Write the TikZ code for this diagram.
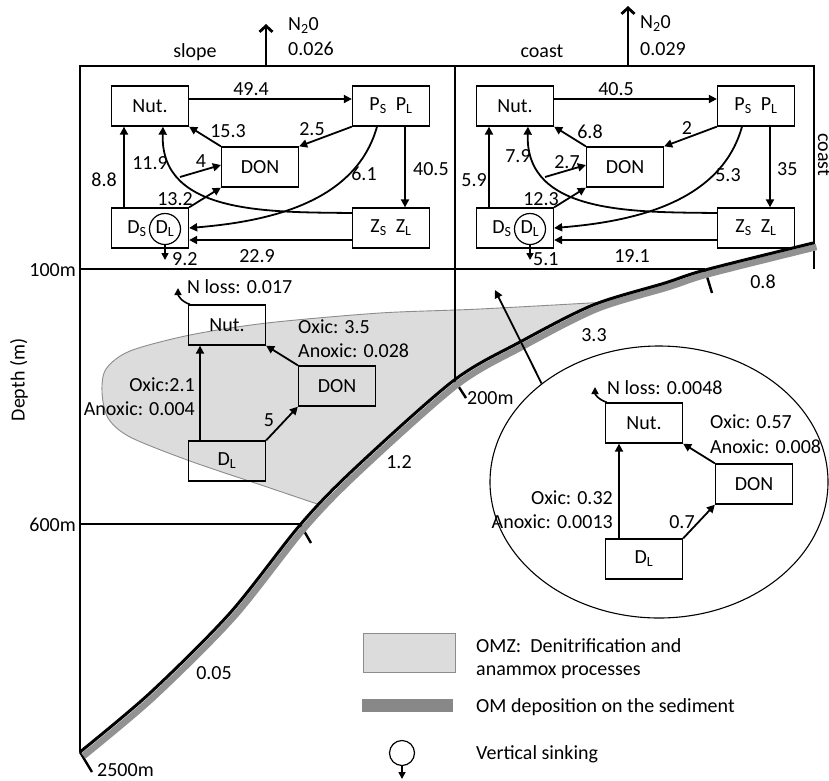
\documentclass[tikz,border=0pt]{standalone}
\usepackage{fontspec}
\setmainfont{Carlito}
\usetikzlibrary{arrows.meta,shapes.geometric}
\definecolor{omz}{HTML}{DCDCDC}
\definecolor{omzline}{HTML}{8C8C8C}
\definecolor{band}{HTML}{929292}
\definecolor{legbar}{HTML}{888888}
\begin{document}
\begin{tikzpicture}[x=1pt,y=-1pt,
  every node/.style={font=\fontsize{20}{24}\selectfont, inner sep=0pt},
  box/.style={draw, line width=1.3pt, minimum width=77pt, minimum height=40pt},
  frame/.style={line width=2.8pt},
  tick/.style={line width=2.4pt},
  flow/.style={line width=1.8pt, -{Triangle[length=8pt,width=8pt]}},
  small flow/.style={line width=1.6pt, -{Triangle[length=7pt,width=7pt]}},
  up flow/.style={line width=2.8pt, -{Straight Barb[length=6pt,width=13pt]}},
]
\useasboundingbox (0,0) rectangle (829,780);
\fill[white] (0,0) rectangle (829,780);

% ---------- OMZ region (clipped above the slope) ----------
\begin{scope}
  \clip (0,0) -- (0,752) -- plot[smooth] coordinates {(80,752) (150,693) (230,613) (300,525) (353,470) (453,381) (520,342) (593,305) (665,283) (705,270) (813,243)} -- (829,243) -- (829,0) -- cycle;
  \filldraw[fill=omz, draw=omzline, line width=0.9pt] plot[smooth] coordinates {(625,301) (480,309) (380,313) (267,323) (190,335) (130,351) (106,369) (102,392) (108,418) (130,437) (190,461) (267,487) (335,510)} -- cycle;
\end{scope}

% ---------- frame lines ----------
\draw[frame] (80,752) -- (80,66) -- (814,66) -- (814,269);
\draw[frame] (455,66) -- (455,381);
\draw[frame] (80,269) -- (705,269);
\draw[frame] (80,524) -- (300,524);
\draw[tick] (455,381) -- (466,398);
\draw[tick] (705,270) -- (712,293);
\draw[tick] (300,524) -- (311,543);
\draw[tick] (80,752) -- (92,772);

% ---------- slope with sediment band ----------
\draw[band, line width=6.5pt, shift={(3.5,4)}] plot[smooth] coordinates {(80,752) (150,693) (230,613) (300,525) (353,470) (453,381) (520,342) (593,305) (665,283) (705,270) (813,243)};
\draw[line width=3pt] plot[smooth] coordinates {(80,752) (150,693) (230,613) (300,525) (353,470) (453,381) (520,342) (593,305) (665,283) (705,270) (813,243)};

% ---------- axis / depth labels ----------
\node[rotate=90] (depth) at (19,380) {Depth (m)};
\node[anchor=east] (d100) at (76,270) {100m};
\node[anchor=east] (d600) at (76,525) {600m};
\node[anchor=west] (d200) at (467,398) {200m};
\node[anchor=west] (d2500) at (97,770) {2500m};
\node (v33) at (594,335) {3.3};
\node (v08) at (763,282) {0.8};
\node (v12) at (399,462) {1.2};
\node (v005) at (214,673) {0.05};
\node[rotate=-90, anchor=base west] (cEdge) at (818,133) {coast};

% ---------- N2O fluxes and titles ----------
\coordinate (sT) at (266,66); \coordinate (sTup) at (266,24);
\draw[up flow] (sT) -- (sTup);
\node[anchor=base west] (sN2O) at (288,30) {N\textsubscript{2}0};
\node[anchor=base west] (sV) at (288,55) {0.026};
\node[anchor=base] (sTitle) at (195,57) {slope};
\coordinate (cT) at (628,66); \coordinate (cTup) at (628,6);
\draw[up flow] (cT) -- (cTup);
\node[anchor=base west] (cN2O) at (640,28) {N\textsubscript{2}0};
\node[anchor=base west] (cV) at (640,55) {0.029};
\node[anchor=base] (cTitle) at (542,57) {coast};

% ---------- upper slope box ----------
\node[box] (sN) at (150,106) {Nut.};
\node[box] (sP) at (391,106) {P\textsubscript{S}\ \ P\textsubscript{L}};
\node[box] (sD) at (260,167) {DON};
\node[box] (sB) at (150,228) {};
\node (sBt) at (137,229) {D\textsubscript{S}};
\node[draw, circle, line width=1.2pt, minimum size=31pt] (sL) at (165,229) {D\textsubscript{L}};
\node[box] (sZ) at (391,228) {Z\textsubscript{S}\ \ Z\textsubscript{L}};
\coordinate (s4) at (180,177);
\coordinate (sSink) at (165,260);
\draw[flow] ([yshift=7pt]sN.east) -- ([yshift=7pt]sP.west);
\draw[flow] (sD.north west) -- (sN.south east);
\draw[flow] (sP.south west) -- (sD.north east);
\draw[flow] ([xshift=14pt]sP.south) -- ([xshift=14pt]sZ.north);
\draw[flow] ([xshift=-26pt]sB.north) -- ([xshift=-26pt]sN.south);
\draw[flow] ([yshift=15pt]sZ.west) .. controls +(-83,-1) and +(-3,88) .. ([xshift=13pt]sN.south);
\draw[flow] (s4) -- ([yshift=2pt]sD.west);
\draw[flow] (sB.north east) -- (sD.south west);
\draw[flow] ([xshift=-14pt]sP.south) .. controls +(-22,79) and +(72,-6) .. (sB.east);
\draw[flow] ([yshift=-12pt]sZ.west) -- ([yshift=-12pt]sB.east);
\draw[small flow] (sL.south) -- (sSink);
\node (sl1) at (251,89) {49.4};
\node (sl2) at (228,131) {15.3};
\node (sl3) at (312,129) {2.5};
\node[anchor=west] (sl4) at (413,169) {40.5};
\node[anchor=east] (sl5) at (117,180) {8.8};
\node (sl6) at (150,163) {11.9};
\node (sl7) at (201,161) {4};
\node (sl8) at (175,199) {13.2};
\node (sl9) at (364,174) {6.1};
\node (sl10) at (257,256) {22.9};
\node[anchor=west] (sl11) at (172,259) {9.2};

% ---------- upper coast box ----------
\begin{scope}[xshift=365pt]
\node[box] (cN) at (150,106) {Nut.};
\node[box] (cP) at (391,106) {P\textsubscript{S}\ \ P\textsubscript{L}};
\node[box] (cD) at (260,167) {DON};
\node[box] (cB) at (150,228) {};
\node (cBt) at (137,229) {D\textsubscript{S}};
\node[draw, circle, line width=1.2pt, minimum size=31pt] (cL) at (165,229) {D\textsubscript{L}};
\node[box] (cZ) at (391,228) {Z\textsubscript{S}\ \ Z\textsubscript{L}};
\coordinate (c4) at (180,177);
\coordinate (cSink) at (165,260);
\draw[flow] ([yshift=7pt]cN.east) -- ([yshift=7pt]cP.west);
\draw[flow] (cD.north west) -- (cN.south east);
\draw[flow] (cP.south west) -- (cD.north east);
\draw[flow] ([xshift=14pt]cP.south) -- ([xshift=14pt]cZ.north);
\draw[flow] ([xshift=-26pt]cB.north) -- ([xshift=-26pt]cN.south);
\draw[flow] ([yshift=15pt]cZ.west) .. controls +(-83,-1) and +(-3,88) .. ([xshift=13pt]cN.south);
\draw[flow] (c4) -- ([yshift=2pt]cD.west);
\draw[flow] (cB.north east) -- (cD.south west);
\draw[flow] ([xshift=-14pt]cP.south) .. controls +(-22,79) and +(72,-6) .. (cB.east);
\draw[flow] ([yshift=-12pt]cZ.west) -- ([yshift=-12pt]cB.east);
\draw[small flow] (cL.south) -- (cSink);
\node (cl1) at (251,89) {40.5};
\node (cl2) at (225,132) {6.8};
\node (cl3) at (322,128) {2};
\node[anchor=west] (cl4) at (412,169) {35};
\node[anchor=east] (cl5) at (122,180) {5.9};
\node (cl6) at (153,156) {7.9};
\node (cl7) at (202,162) {2.7};
\node (cl8) at (176,199) {12.3};
\node (cl9) at (363,175) {5.3};
\node (cl10) at (267,256) {19.1};
\node[anchor=west] (cl11) at (168,259) {5.1};
\end{scope}

% ---------- lower slope (OMZ) ----------
\node[box] (lN) at (227,325) {Nut.};
\node[box] (lD) at (337,386) {DON};
\node[box] (lL) at (227,461) {D\textsubscript{L}};
\coordinate (lNL) at (178,288);
\draw[flow] ([xshift=-27pt]lL.north) -- ([xshift=-27pt]lN.south);
\draw[flow] (lD.north west) -- (lN.south east);
\draw[flow] (lL.north east) -- (lD.south west);
\draw[small flow] ([xshift=2pt]lN.north west) .. controls +(-9,-3) and +(0,7) .. (lNL);
\node[anchor=west] (lloss) at (187,287) {N loss: 0.017};
\node[anchor=east] (lo1) at (195,385) {Oxic:2.1};
\node[anchor=east] (la1) at (195,409) {Anoxic: 0.004};
\node[anchor=west] (lo2) at (298,327) {Oxic: 3.5};
\node[anchor=west] (la2) at (298,351) {Anoxic: 0.028};
\node (l5) at (269,420) {5};

% ---------- coastal sediment zoom (ellipse) ----------
\node[draw, ellipse, line width=1.1pt, minimum width=338pt, minimum height=272pt] (ell) at (659,482) {};
\coordinate (eTip) at (495,290);
\draw[flow] (ell.140.8) -- (eTip);
\node[box] (eN) at (644,423) {Nut.};
\node[box] (eD) at (754,484) {DON};
\node[box] (eL) at (644,559) {D\textsubscript{L}};
\coordinate (eNL) at (595,387);
\draw[flow] ([xshift=-25pt]eL.north) -- ([xshift=-25pt]eN.south);
\draw[flow] (eD.north west) -- (eN.south east);
\draw[flow] (eL.north east) -- (eD.south west);
\draw[small flow] ([xshift=2pt]eN.north west) .. controls +(-9,-3) and +(0,7) .. (eNL);
\node[anchor=west] (eloss) at (607,388) {N loss: 0.0048};
\node[anchor=east] (eo1) at (613,498) {Oxic: 0.32};
\node[anchor=east] (ea1) at (613,522) {Anoxic: 0.0013};
\node[anchor=west] (eo2) at (710,422) {Oxic: 0.57};
\node[anchor=west] (ea2) at (710,447) {Anoxic: 0.008};
\node (e07) at (682,522) {0.7};

% ---------- legend ----------
\node[draw=omzline, fill=omz, line width=0.9pt, minimum width=92pt, minimum height=39pt] (lgOMZ) at (409,652.5) {};
\node[anchor=base west] (lgT1) at (476,652) {OMZ:\ \ Denitrification and};
\node[anchor=base west] (lgT2) at (476,675) {anammox processes};
\node[fill=legbar, minimum width=91pt, minimum height=13pt] (lgOM) at (407.5,705.5) {};
\node[anchor=base west] (lgT3) at (476,712) {OM deposition on the sediment};
\node[draw, circle, line width=1.2pt, minimum size=25pt] (lgC) at (402,753) {};
\coordinate (lgSink) at (402,779);
\draw[small flow] (lgC.south) -- (lgSink);
\node[anchor=base west] (lgT4) at (476,759) {Vertical sinking};
\end{tikzpicture}
\end{document}
